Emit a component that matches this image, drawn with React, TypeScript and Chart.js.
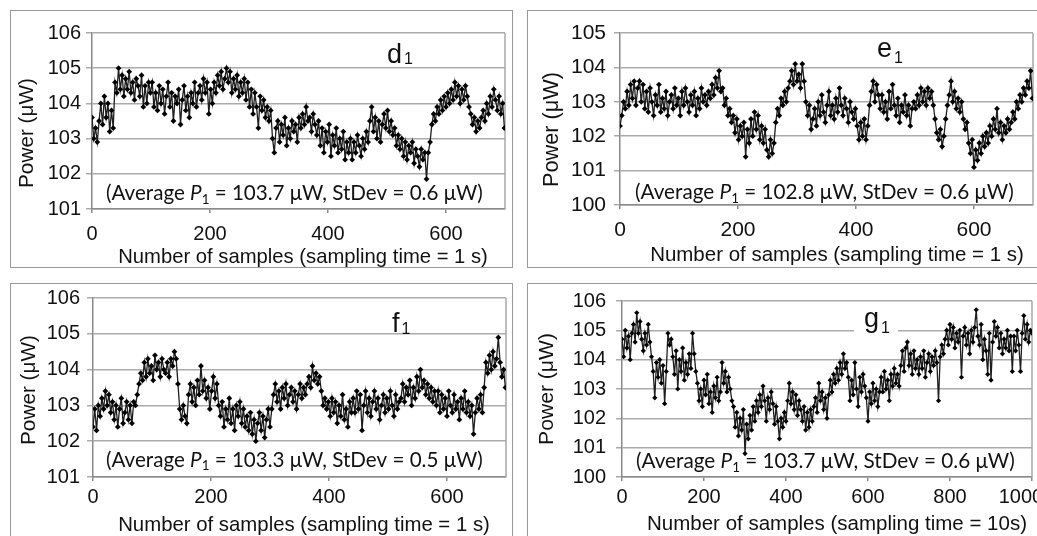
import React, { useEffect, useRef } from "react";
import { Chart, registerables } from "chart.js";

Chart.register(...registerables);

// Power readings (μW), one value every SAMPLE_STEPS[i] samples
const SAMPLE_STEPS = [3, 3, 3, 4];

const D1_POWER = [
  103.6, 103.0, 103.3, 102.9,
  103.5, 104.0, 103.4, 104.2, 103.6, 104.0, 103.2, 103.8,
  103.3, 104.6, 104.3, 105.0,
  104.4, 104.8, 104.2, 104.7, 104.4, 104.9, 104.3, 104.6, 104.1, 104.7, 104.5, 104.2, 104.8, 103.9, 104.5, 104.0, 104.6, 104.3,
  104.6, 103.9, 104.3, 103.8, 104.5, 104.0, 104.4, 103.7, 104.2, 104.6, 103.9, 104.3, 103.5, 104.2, 104.0, 104.4, 103.4, 104.1, 104.5, 103.8, 104.2, 103.6, 104.3, 104.0, 104.6, 103.9, 104.3,
  104.5, 104.1, 104.7, 104.3, 104.6, 103.7, 104.4, 104.0, 104.6, 104.3, 104.8, 104.5, 104.9, 104.4, 104.7, 105.0,
  104.6, 104.9, 104.3, 104.7, 104.4, 104.8, 104.2, 104.6, 104.3, 104.7,
  104.1, 104.6, 103.9, 104.4, 103.7, 104.3, 103.9, 103.3, 104.2, 103.8, 104.1, 103.6, 103.9, 103.5,
  103.8, 103.0, 102.6, 103.3,
  103.5, 102.9, 103.4, 103.1, 103.6, 102.8, 103.3, 103.0, 103.5, 103.2, 103.4, 102.9, 103.6, 103.3, 103.7, 103.4, 103.9, 103.5, 103.6, 103.2, 103.7, 103.4,
  103.1, 103.5, 102.8, 103.3, 102.6, 103.2, 102.9, 103.4, 102.5, 103.1, 102.8, 103.3, 102.6, 103.0, 102.7, 103.2, 102.4, 102.9, 102.6, 103.0,
  102.4, 102.9, 102.6, 103.1, 102.8, 102.5, 103.0, 102.7, 103.2, 102.9,
  103.5, 103.9, 103.2, 103.6, 103.0, 103.5, 102.9, 103.4, 103.7, 103.3, 103.8, 103.2, 103.5, 103.1,
  103.3, 102.8, 103.1, 102.7, 103.0, 102.5, 102.9, 102.4, 102.8, 102.6, 102.9, 102.3, 102.7, 102.5, 102.2, 102.7, 102.4, 102.6, 101.85,
  102.6, 102.9, 103.4, 103.7, 103.5, 103.9, 103.7, 104.1, 103.8, 104.2,
  103.9, 104.3, 104.0, 104.4, 104.1, 104.6, 104.2, 104.5, 104.0, 104.4, 104.1, 104.5, 104.2, 103.9,
  103.7, 103.4, 103.6, 103.2, 103.5, 103.3, 103.6,
  103.8, 103.5, 104.0, 103.7, 104.2, 103.9, 104.4, 104.1, 103.8, 104.2, 103.7, 104.0, 103.3,
];

const E1_POWER = [
  102.3, 102.6, 103.0, 102.8,
  103.3, 102.9, 103.5, 103.1, 103.6, 102.9, 103.4, 103.6, 103.0, 103.5,
  102.8, 103.3, 102.7, 103.4, 103.0, 102.6, 103.2, 102.9, 103.5, 102.7, 103.1, 102.8, 103.3, 102.6, 103.0, 103.2, 102.8, 103.4, 102.9, 103.1,
  102.6, 103.3, 102.9, 103.4, 103.0, 102.7, 103.2, 102.9, 103.3, 102.6, 103.1, 102.8, 103.4, 103.0, 103.2, 102.9, 103.3,
  103.1, 103.5, 103.2, 103.7, 103.4, 103.9, 103.3,
  103.4, 102.9, 103.1, 102.6, 102.8, 102.4,
  102.6, 102.1, 102.5, 101.9, 102.3, 102.0, 102.4, 101.4, 102.2, 101.8, 102.5, 102.0, 102.7, 102.2,
  102.6, 101.9, 102.3, 101.8, 102.2, 101.6, 101.4, 101.9, 101.5,
  101.8, 102.4, 102.8, 102.6, 103.1, 102.9, 103.3, 103.0, 103.4, 103.6,
  103.9, 103.5, 104.1, 103.6, 103.8, 103.4, 104.1, 103.6,
  103.0, 102.6, 102.9, 102.2, 102.5,
  102.8, 102.3, 103.0, 102.6, 103.2, 102.7, 102.4, 102.9, 103.3, 102.6, 102.9, 102.5, 103.1, 102.7, 103.4, 102.9, 102.6, 103.1, 102.8, 102.4, 103.0, 102.7, 102.5, 102.8,
  102.3, 101.9, 102.4, 102.0, 102.5, 101.9, 102.3,
  102.9, 103.3, 103.6, 103.0, 103.5, 103.2, 102.8,
  103.2, 102.7, 103.0, 102.5, 103.3, 102.8, 103.5, 102.9, 102.6, 103.1, 102.4, 102.9, 102.7, 103.2, 102.6, 102.9, 102.3, 102.8, 103.0,
  102.8, 103.2, 102.9, 103.4, 103.0, 103.3, 102.9, 103.4, 103.1, 103.3, 102.9,
  102.5, 102.1, 101.9, 102.2, 101.7, 102.0, 102.5,
  102.9, 103.2, 103.6, 103.0, 103.3, 102.8, 103.1, 102.7, 103.0,
  102.5, 102.2, 102.4, 101.8, 101.5, 101.9, 101.1,
  101.6, 101.3, 101.8, 101.5, 102.0, 101.7, 102.1,
  101.8, 102.3, 102.0, 102.5, 102.2, 102.8, 102.1, 102.4, 101.9, 102.3, 102.1, 102.5, 102.2,
  102.4, 102.7, 102.5, 103.0, 102.8, 103.2, 103.0, 103.4, 103.2, 103.6, 103.4, 103.9, 103.1,
];

const F1_POWER = [
  102.4, 102.9, 102.3, 103.0,
  102.7, 103.2, 102.9, 103.4, 103.0, 103.3, 102.8,
  103.1, 102.6, 103.0, 102.4, 102.9, 103.2, 102.5, 102.8, 103.1, 102.6, 103.0, 102.5, 103.1,
  103.0, 103.3, 103.6, 103.9, 103.7,
  104.2, 103.8, 104.3, 103.9, 104.1, 103.7, 104.4, 104.0, 104.2, 103.8, 104.3, 104.0, 103.9, 104.2, 103.8, 104.3, 104.1, 104.5,
  104.3, 103.6, 102.9, 102.6, 103.0, 102.7,
  102.5, 103.3, 103.6, 103.1, 103.5, 103.0, 103.7, 103.3, 104.1, 103.4, 103.7, 103.2, 103.5,
  102.9, 103.4, 103.8, 103.2, 103.6, 103.0,
  102.7, 103.1, 102.4, 102.9, 102.6, 103.2, 102.5, 102.9, 102.3, 103.0, 102.7, 103.1, 102.5, 102.9, 102.4,
  102.7, 102.3, 102.8, 102.2, 102.6, 102.0, 102.5, 102.8, 102.3, 102.7, 102.1, 102.6, 102.9, 102.4,
  102.9, 103.3, 103.6, 103.1, 103.4, 102.9, 103.5, 103.2, 103.6, 103.0, 103.3, 103.5, 103.1, 103.4, 102.9, 103.3, 103.6, 103.2, 103.5, 103.3,
  103.6, 103.8, 103.5, 104.1, 103.7, 103.9, 103.6, 103.8,
  103.4, 103.0, 103.2, 102.9, 103.1,
  102.7, 103.2, 102.8, 103.1, 102.5, 103.0, 102.7, 103.3, 102.6, 102.9, 102.4, 103.1, 102.8,
  103.2, 102.8, 103.4, 102.9, 103.3, 102.3, 103.0, 103.4, 102.8, 103.2, 102.7, 103.1, 103.4, 102.9, 103.2, 102.6, 103.0, 103.3, 102.8, 103.2, 102.9, 103.4, 103.0, 102.7, 103.3, 102.9, 103.1,
  103.2, 103.6, 103.1, 103.5, 103.3, 103.7, 103.0, 103.5, 103.2, 103.8, 103.4, 104.0, 103.5, 103.7, 103.3, 103.6, 103.2, 103.5, 103.1, 103.4,
  103.0, 103.4, 102.8, 103.3, 102.9, 103.2, 102.7, 103.4, 103.0, 102.8, 103.3, 102.9, 103.1, 102.6, 103.2, 102.9, 103.4, 102.8, 103.1, 102.7,
  103.0, 102.2, 102.8, 103.2, 102.9, 103.3, 102.8,
  103.5, 104.2, 103.9, 104.4, 104.0, 104.5, 104.1, 104.3, 104.9, 104.2, 103.8, 104.0, 103.5,
];

const G1_POWER = [
  104.7, 104.1, 105.0, 104.4, 104.8, 104.0,
  104.9, 105.2, 104.6, 105.6, 104.9, 105.3, 104.7,
  104.3, 104.9, 104.5, 105.2, 104.6,
  104.1, 103.6, 102.7, 103.9, 103.4, 104.0, 103.2, 103.8, 102.5, 103.6,
  104.9, 104.5, 104.7,
  104.1, 103.5, 104.3, 103.0, 104.0, 103.6, 104.4, 103.3, 103.9, 103.5, 104.2, 103.7,
  104.9, 104.2, 103.6,
  103.2, 102.6, 103.0, 102.4, 103.3, 102.8, 103.5, 102.5, 102.9, 102.2, 103.1, 102.7, 103.4, 102.6, 102.9,
  103.9, 103.2, 103.6, 102.9, 103.4, 103.0, 102.6,
  102.4, 101.7, 102.2, 101.4, 102.0, 101.6, 102.3, 100.8, 101.8, 101.3, 102.1, 101.6, 102.4, 101.9, 102.6,
  102.2, 102.8, 102.4, 103.1, 102.6, 101.9, 102.7, 102.3, 102.9, 102.5, 101.8, 102.4,
  101.9, 101.3, 102.0, 101.7, 102.2, 101.9,
  102.6, 103.2, 102.5, 102.9, 102.3, 102.8, 102.1, 102.6, 102.3,
  101.9, 102.4, 101.6, 102.2, 101.7, 102.3, 101.9, 102.4,
  102.7, 102.2, 103.2, 102.6, 102.9, 102.3, 102.7, 102.0,
  102.8, 103.3, 102.9, 103.5, 103.2, 103.7, 103.3, 103.9,
  103.5, 104.2, 103.7, 103.9, 103.4, 102.6,
  103.3, 102.8, 103.9, 103.0, 102.4, 103.4, 102.9, 103.5, 103.1, 102.7, 101.9,
  102.9, 102.5, 103.2, 102.6, 103.0, 102.4, 102.9,
  103.4, 102.9, 103.6, 103.0, 103.3, 102.6, 103.5, 103.1, 103.7, 103.2, 103.5, 103.1,
  103.8, 104.3, 103.6, 104.4, 104.6, 103.8, 104.2, 103.5, 104.3, 103.7,
  104.0, 103.5, 104.1, 103.7, 104.3, 103.4, 103.9, 104.2, 103.6, 104.1, 103.8, 104.3, 103.9,
  102.6, 104.1, 104.5, 104.2, 104.7,
  105.0, 104.5, 105.2, 104.7, 105.1, 104.4, 104.9, 104.6, 105.0, 103.4, 104.8, 105.1, 104.5, 104.9, 104.2, 105.0, 104.6, 105.1, 105.7, 104.8,
  104.5, 105.2, 104.0, 104.7, 104.3, 103.5, 104.9, 103.3, 104.6, 105.3, 104.8, 105.1, 104.4, 104.9, 104.2, 104.7, 104.4, 105.0, 104.3, 104.8,
  103.6, 104.8, 104.3, 105.0, 104.5, 103.6, 104.9, 105.5, 104.7, 105.2, 104.6, 105.0, 104.9,
];

const PANEL_LABELS = ["d", "e", "f", "g"];
const AVERAGES = ["103.7", "102.8", "103.3", "103.7"];
const STDEVS = ["0.6", "0.6", "0.5", "0.6"];
const X_TITLES = [
  "Number of samples (sampling time = 1 s)",
  "Number of samples (sampling time = 1 s)",
  "Number of samples (sampling time = 1 s)",
  "Number of samples (sampling time = 10s)",
];
const Y_TITLE = "Power (μW)";
const X_MAX = [700, 700, 700, 1000];
const Y_MIN = [101, 100, 101, 100];
const Y_MAX = [106, 105, 106, 106];
const X_TICK_STEP = 200;
const Y_TICK_STEP = 1;

const AXIS_FONT = "'Liberation Sans', Arial, sans-serif";
const NOTE_FONT = "Lato, 'Open Sans', sans-serif";

type Layout = {
  box: { left: number; top: number; width: number; height: number };
  cw: number;
  ch: number;
  plot: { l: number; r: number; t: number; b: number };
  tickSize: number;
  yTickPad: number;
  xTickPad: number;
  labelX: number;
  labelY: number;
  subDy: number;
  labelBg: number[] | null;
  avgLeft: number;
  avgRight: number;
  avgBase: number;
  yTitleX: number;
  yTitleY: number;
  yTitleLen: number;
  xTitleX: number;
  xTitleY: number;
  xTitleW: number;
  pointR: number;
};

const LAYOUTS: Layout[] = [
  {
    box: { left: 10, top: 10, width: 503, height: 258 },
    cw: 503, ch: 258,
    plot: { l: 82, r: 495, t: 23, b: 199 },
    tickSize: 20, yTickPad: 5, xTickPad: 9,
    labelX: 377, labelY: 53, subDy: 1, labelBg: null,
    avgLeft: 96, avgRight: 473, avgBase: 190,
    yTitleX: 17, yTitleY: 123, yTitleLen: 110,
    xTitleX: 293, xTitleY: 247, xTitleW: 370,
    pointR: 2.9,
  },
  {
    box: { left: 527, top: 10, width: 540, height: 258 },
    cw: 510, ch: 258,
    plot: { l: 93, r: 506, t: 23, b: 195 },
    tickSize: 21, yTickPad: 8, xTickPad: 9,
    labelX: 350, labelY: 47, subDy: 6, labelBg: null,
    avgLeft: 108, avgRight: 487, avgBase: 189,
    yTitleX: 25, yTitleY: 119.5, yTitleLen: 115,
    xTitleX: 310, xTitleY: 245, xTitleW: 374,
    pointR: 2.9,
  },
  {
    box: { left: 10, top: 283, width: 503, height: 290 },
    cw: 503, ch: 253,
    plot: { l: 83, r: 496, t: 15, b: 194 },
    tickSize: 20, yTickPad: 7, xTickPad: 4.8,
    labelX: 382, labelY: 49, subDy: 1.5, labelBg: null,
    avgLeft: 96, avgRight: 473, avgBase: 183.7,
    yTitleX: 19, yTitleY: 107, yTitleLen: 110,
    xTitleX: 294, xTitleY: 242.5, xTitleW: 372,
    pointR: 2.9,
  },
  {
    box: { left: 527, top: 283, width: 540, height: 290 },
    cw: 510, ch: 253,
    plot: { l: 95, r: 505, t: 18, b: 194 },
    tickSize: 20, yTickPad: 10, xTickPad: 4.5,
    labelX: 337, labelY: 44, subDy: 6, labelBg: [327, 30, 44, 26],
    avgLeft: 109, avgRight: 488, avgBase: 185,
    yTitleX: 20.5, yTitleY: 106, yTitleLen: 112,
    xTitleX: 310, xTitleY: 241, xTitleW: 380,
    pointR: 2.6,
  },
];

const SERIES = [D1_POWER, E1_POWER, F1_POWER, G1_POWER];

function fitFontSize(ctx: CanvasRenderingContext2D, text: string, family: string, target: number) {
  ctx.font = `20px ${family}`;
  const w = ctx.measureText(text).width || 1;
  return (20 * target) / w;
}

const panelTextPlugin = {
  id: "panelText",
  beforeDatasetsDraw(chart: any, _args: any, opts: any) {
    const { ctx, chartArea } = chart;
    ctx.save();
    ctx.strokeStyle = "#a9a9a9";
    ctx.lineWidth = 1.5;
    ctx.beginPath();
    ctx.moveTo(chartArea.right, chartArea.top);
    ctx.lineTo(chartArea.right, chartArea.bottom);
    ctx.stroke();
    const bg = opts.labelBg;
    if (bg) {
      ctx.fillStyle = "#ffffff";
      ctx.fillRect(bg[0], bg[1], bg[2], bg[3]);
    }
    ctx.restore();
  },
  afterDatasetsDraw(chart: any, _args: any, opts: any) {
    const ctx: CanvasRenderingContext2D = chart.ctx;
    ctx.save();
    ctx.fillStyle = "#111111";

    // panel label with subscript
    ctx.textAlign = "left";
    ctx.textBaseline = "alphabetic";
    ctx.font = `27px ${AXIS_FONT}`;
    ctx.fillText(opts.label, opts.labelX, opts.labelY);
    const lw = ctx.measureText(opts.label).width;
    ctx.font = `16px ${AXIS_FONT}`;
    ctx.fillText("1", opts.labelX + lw + 2, opts.labelY + opts.subDy);

    // y title
    ctx.save();
    ctx.translate(opts.yTitleX, opts.yTitleY);
    ctx.rotate(-Math.PI / 2);
    const ys = fitFontSize(ctx, Y_TITLE, AXIS_FONT, opts.yTitleLen);
    ctx.font = `${ys}px ${AXIS_FONT}`;
    ctx.textAlign = "center";
    ctx.textBaseline = "middle";
    ctx.fillText(Y_TITLE, 0, 0);
    ctx.restore();

    // x title
    const xs = fitFontSize(ctx, opts.xTitle, AXIS_FONT, opts.xTitleW);
    ctx.font = `${xs}px ${AXIS_FONT}`;
    ctx.textAlign = "center";
    ctx.textBaseline = "middle";
    ctx.fillText(opts.xTitle, opts.xTitleX, opts.xTitleY);

    // average note
    const segs = [
      { t: "(Average ", style: "", sub: false },
      { t: "P", style: "italic ", sub: false },
      { t: "1", style: "", sub: true },
      { t: ` = ${opts.avg} μW, StDev = ${opts.sd} μW)`, style: "", sub: false },
    ];
    const base = 20;
    let total = 0;
    for (const s of segs) {
      ctx.font = `${s.style}${s.sub ? base * 0.65 : base}px ${NOTE_FONT}`;
      total += ctx.measureText(s.t).width;
    }
    const k = (opts.avgRight - opts.avgLeft) / total;
    const size = base * k;
    let x = opts.avgLeft;
    ctx.textAlign = "left";
    ctx.textBaseline = "alphabetic";
    for (const s of segs) {
      const fs = s.sub ? size * 0.65 : size;
      ctx.font = `${s.style}${fs}px ${NOTE_FONT}`;
      ctx.fillText(s.t, x, opts.avgBase + (s.sub ? size * 0.18 : 0));
      x += ctx.measureText(s.t).width;
    }
    ctx.restore();
  },
};

function Panel({ index }: { index: number }) {
  const ref = useRef<HTMLCanvasElement>(null);
  const L = LAYOUTS[index];
  useEffect(() => {
    const canvas = ref.current;
    if (!canvas) return;
    const values = SERIES[index];
    const step = SAMPLE_STEPS[index];
    const points = values.map((v, i) => ({ x: i * step, y: v }));
    const xMax = X_MAX[index];
    const chart = new Chart(canvas, {
      type: "line",
      data: {
        datasets: [
          {
            data: points,
            borderColor: "#1e1e1e",
            borderWidth: 1.3,
            pointStyle: "rectRot",
            pointRadius: L.pointR,
            pointBackgroundColor: "#000000",
            pointBorderColor: "#000000",
            pointBorderWidth: 0,
            tension: 0,
          },
        ],
      },
      options: {
        responsive: false,
        animation: false,
        events: [],
        layout: {
          padding: { left: 0, top: L.plot.t, right: L.cw - L.plot.r, bottom: 0 },
        },
        plugins: {
          legend: { display: false },
          tooltip: { enabled: false },
          panelText: {
            label: PANEL_LABELS[index],
            avg: AVERAGES[index],
            sd: STDEVS[index],
            xTitle: X_TITLES[index],
            labelX: L.labelX,
            labelY: L.labelY,
            subDy: L.subDy,
            labelBg: L.labelBg,
            avgLeft: L.avgLeft,
            avgRight: L.avgRight,
            avgBase: L.avgBase,
            yTitleX: L.yTitleX,
            yTitleY: L.yTitleY,
            yTitleLen: L.yTitleLen,
            xTitleX: L.xTitleX,
            xTitleY: L.xTitleY,
            xTitleW: L.xTitleW,
          },
        } as any,
        scales: {
          x: {
            type: "linear",
            min: 0,
            max: xMax,
            afterFit: (s: any) => {
              s.height = L.ch - L.plot.b;
              s.paddingLeft = 0;
              s.paddingRight = 0;
            },
            ticks: {
              stepSize: X_TICK_STEP,
              includeBounds: false,
              autoSkip: false,
              maxRotation: 0,
              minRotation: 0,
              padding: L.xTickPad,
              color: "#111111",
              font: { family: AXIS_FONT, size: L.tickSize },
              callback: (v: any) => (v === 1000 ? "1000    " : String(v)),
            },
            grid: {
              display: true,
              drawOnChartArea: false,
              drawTicks: true,
              tickLength: 4,
              color: "#8a8a8a",
              lineWidth: 1.5,
            },
            border: { display: true, color: "#8a8a8a", width: 1.5 },
          },
          y: {
            type: "linear",
            min: Y_MIN[index],
            max: Y_MAX[index],
            afterFit: (s: any) => {
              s.width = L.plot.l;
              s.paddingTop = 0;
              s.paddingBottom = 0;
            },
            ticks: {
              stepSize: Y_TICK_STEP,
              padding: L.yTickPad,
              color: "#111111",
              font: { family: AXIS_FONT, size: L.tickSize },
            },
            grid: {
              display: true,
              drawOnChartArea: true,
              drawTicks: true,
              tickLength: 6,
              color: "#ababab",
              lineWidth: 1.5,
            },
            border: { display: true, color: "#8a8a8a", width: 1.5 },
          },
        },
      } as any,
      plugins: [panelTextPlugin as any],
    });
    return () => chart.destroy();
  }, [index]);

  return (
    <>
      <div
        style={{
          position: "absolute",
          left: L.box.left,
          top: L.box.top,
          width: L.box.width,
          height: L.box.height,
          border: "1.5px solid #9a9a9a",
          boxSizing: "border-box",
        }}
      />
      <canvas
        ref={ref}
        width={L.cw}
        height={L.ch}
        style={{ position: "absolute", left: L.box.left, top: L.box.top, width: L.cw, height: L.ch }}
      />
    </>
  );
}

export default function App() {
  return (
    <div
      style={{
        position: "fixed",
        left: 0,
        top: 0,
        width: 1037,
        height: 536,
        overflow: "hidden",
        background: "#ffffff",
      }}
    >
      {PANEL_LABELS.map((_, i) => (
        <Panel key={i} index={i} />
      ))}
    </div>
  );
}
